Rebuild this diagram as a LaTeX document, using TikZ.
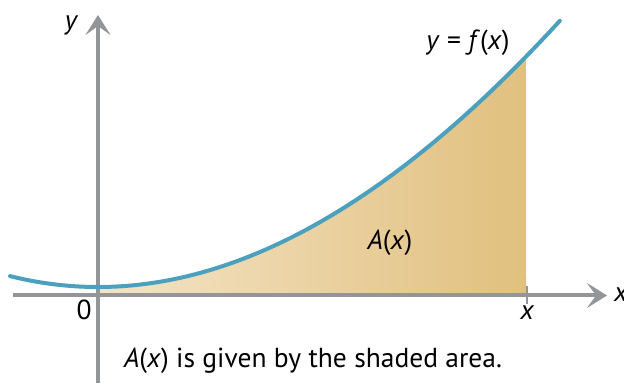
\documentclass[tikz,border=0pt]{standalone}
\usepackage{fontspec}
\setmainfont{PT Sans}
\usetikzlibrary{arrows.meta}
\definecolor{axisgray}{HTML}{939598}
\definecolor{curveblue}{HTML}{4AA0BD}
\definecolor{shadeL}{HTML}{F4E4C6}
\definecolor{shadeR}{HTML}{E1C07F}
\tikzset{
  axisline/.style={draw=axisgray, line width=4pt, -{Stealth[length=20pt, width=25pt, inset=9pt]}},
  curveline/.style={draw=curveblue, line width=4pt, line cap=round},
  lbl/.style={font=\fontsize{27.5}{30}\selectfont, inner sep=0pt},
}
\begin{document}
\begin{tikzpicture}[x=1pt, y=1pt]
\useasboundingbox (0,0) rectangle (624,383);
% shaded area
\shade[left color=shadeL, right color=shadeR]
  (98,87.5) -- plot[domain=0:4.28, samples=80] ({98+100*\x}, {96+13.806*\x*\x-0.287*\x*\x*\x}) -- (526,87.5) -- cycle;
% axes
\coordinate (xs) at (13,87.5);
\coordinate (xe) at (607,87.5);
\coordinate (ys) at (98,0);
\coordinate (ye) at (98,368);
\coordinate (tt) at (527,97);
\coordinate (tb) at (527,79);
\draw[axisline] (xs) -- (xe);
\draw[axisline] (ys) -- (ye);
\draw[draw=axisgray, line width=2pt] (tt) -- (tb);
% curve
\draw[curveline] plot[domain=-0.88:4.62, samples=120] ({98+100*\x}, {96+13.806*\x*\x-0.287*\x*\x*\x});
% labels
\node[lbl] (ylab) at (71,358) {\itshape y};
\node[lbl] (zero) at (84,73) {0};
\node[lbl] (xtick) at (527,70) {\itshape x};
\node[lbl, anchor=west] (xlab) at (614,88) {\itshape x};
\node[lbl] (fx) at (468,340) {\itshape y\/\upshape{} = \itshape f\/\upshape(\itshape x\/\upshape)};
\node[lbl] (ax) at (390,140) {\itshape A\/\upshape(\itshape x\/\upshape)};
\node[lbl] (cap) at (313,22) {\itshape A\/\upshape(\itshape x\/\upshape) is given by the shaded area.};
\end{tikzpicture}
\end{document}
